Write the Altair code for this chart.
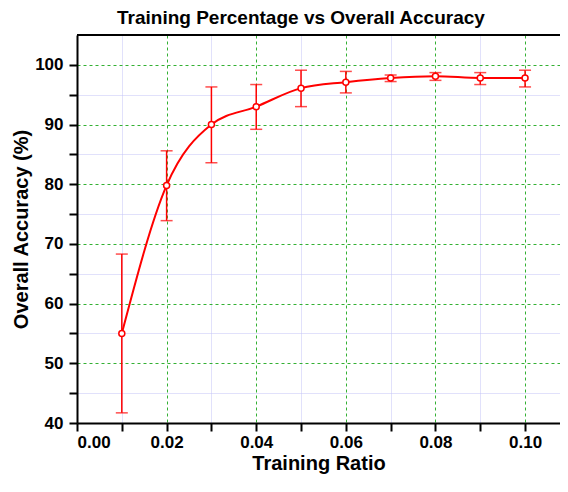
import altair as alt
import pandas as pd

ratio = [0.01, 0.02, 0.03, 0.04, 0.05, 0.06, 0.07, 0.08, 0.09, 0.10]
accuracy = [55.0, 79.8, 90.0, 93.0, 96.1, 97.1, 97.8, 98.1, 97.8, 97.8]
err_high = [68.3, 85.6, 96.3, 96.7, 99.1, 98.9, 98.3, 98.7, 98.7, 99.1]
err_low = [41.7, 73.9, 83.6, 89.2, 93.0, 95.3, 97.2, 97.4, 96.7, 96.3]

x_ticks = [0.0, 0.01, 0.02, 0.03, 0.04, 0.05, 0.06, 0.07, 0.08, 0.09, 0.10]
y_ticks = [40, 45, 50, 55, 60, 65, 70, 75, 80, 85, 90, 95, 100]

df = pd.DataFrame({"ratio": ratio, "acc": accuracy, "hi": err_high, "lo": err_low})

FONT = "Liberation Sans"
RED = "#ff0000"
GREEN = "#33b033"
LAV = "#c2c2f6"

x_major = "round(datum.value*100) % 2 === 0"
y_major = "datum.value % 10 === 0"

xaxis = alt.Axis(
    values=x_ticks,
    title="Training Ratio",
    labelExpr=f"{x_major} ? format(datum.value, '.2f') : ''",
    gridColor={"condition": {"test": x_major, "value": GREEN}, "value": LAV},
    gridDash={"condition": {"test": x_major, "value": [3, 3]}, "value": [1, 1]},
    gridWidth=1,
    tickSize=8,
    labelPadding=3,
    titlePadding=3,
)
yaxis = alt.Axis(
    values=y_ticks,
    title="Overall Accuracy (%)",
    labelExpr=f"{y_major} ? format(datum.value, 'd') : ''",
    gridColor={"condition": {"test": y_major, "value": GREEN}, "value": LAV},
    gridDash={"condition": {"test": y_major, "value": [3, 3]}, "value": [1, 1]},
    gridWidth=1,
    tickSize=8,
    labelPadding=6,
    titlePadding=3,
)

xs = alt.Scale(domain=[0, 0.1078], nice=False, zero=False)
ys = alt.Scale(domain=[40, 105], nice=False, zero=False)


def X():
    return alt.X("ratio:Q", scale=xs, axis=xaxis)


def Y(field):
    return alt.Y(f"{field}:Q", scale=ys, axis=yaxis)


base = alt.Chart(df)

line = base.mark_line(color=RED, strokeWidth=2, interpolate="monotone").encode(
    x=X(), y=Y("acc")
)
bars = base.mark_rule(color=RED, strokeWidth=1.5).encode(
    x=X(), y=Y("lo"), y2="hi:Q"
)
cap_hi = base.mark_tick(color=RED, orient="horizontal", size=12, thickness=1.5).encode(
    x=X(), y=Y("hi")
)
cap_lo = base.mark_tick(color=RED, orient="horizontal", size=12, thickness=1.5).encode(
    x=X(), y=Y("lo")
)
pts = base.mark_circle(fill="white", stroke=RED, strokeWidth=1.5, size=36, opacity=1).encode(
    x=X(), y=Y("acc")
)
top = alt.Chart(pd.DataFrame({"v": [105]})).mark_rule(color="black", strokeWidth=2).encode(
    y=Y("v")
)

chart = (
    alt.layer(line, bars, cap_hi, cap_lo, pts, top)
    .properties(
        width=483,
        height=388,
        autosize=alt.AutoSizeParams(type="none"),
        padding={"left": 69, "top": 27, "right": 0, "bottom": 53},
        title=alt.Title(
            "Training Percentage vs Overall Accuracy",
            font=FONT, fontSize=19, fontWeight="bold", anchor="start", frame="group",
            dx=40, offset=6, color="black",
        ),
    )
    .configure_view(stroke=None)
    .configure_axis(
        labelFont=FONT, labelFontSize=17, labelFontWeight="bold", labelColor="black",
        titleFont=FONT, titleFontSize=20, titleFontWeight="bold", titleColor="black",
        domainColor="black", domainWidth=2, tickColor="black", tickWidth=2,
    )
)

chart.save("out.html", embed_options={"renderer": "svg", "actions": False})
